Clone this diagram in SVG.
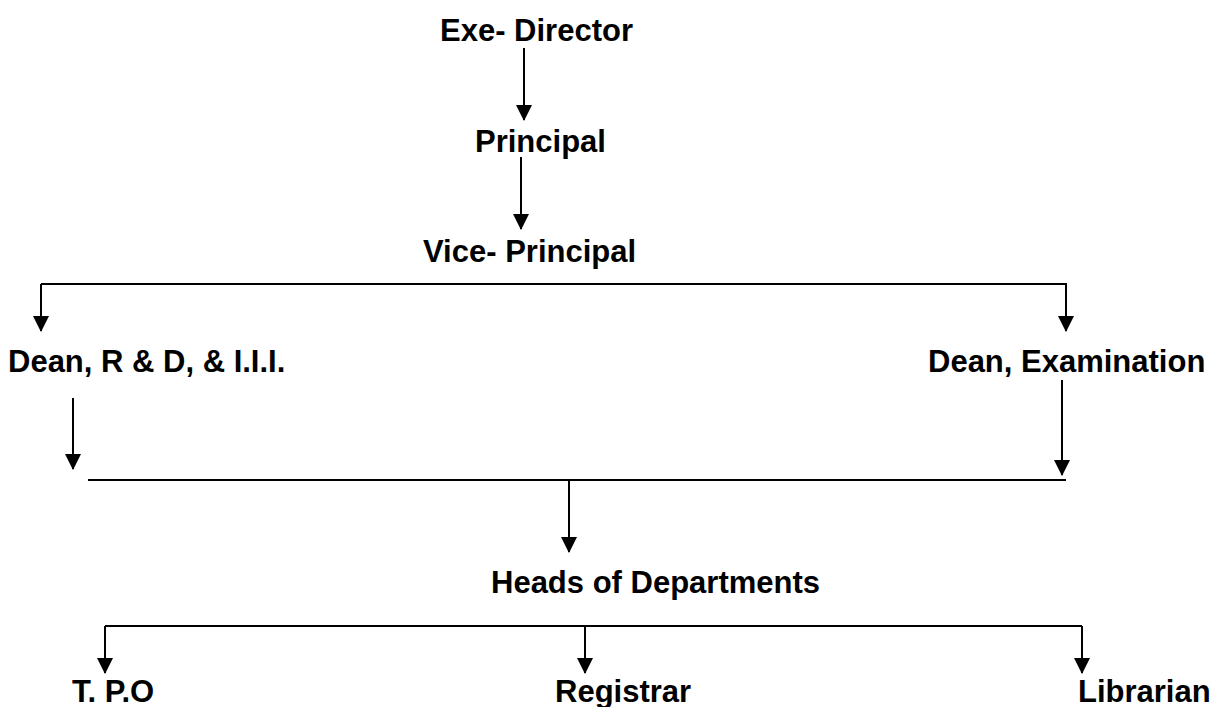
<svg xmlns="http://www.w3.org/2000/svg" width="1217" height="707" viewBox="0 0 1217 707">
<defs>
<style>
text{font-family:"Liberation Sans",Arial,sans-serif;font-weight:bold;font-size:31px;fill:#000}
.c{fill:none;stroke:#000;stroke-width:2}
</style>
<marker id="ah" markerUnits="userSpaceOnUse" markerWidth="16" markerHeight="16" refX="15" refY="8" orient="auto" viewBox="0 0 16 16">
<path d="M0,0 L16,8 L0,16 z" fill="#000"/>
</marker>
</defs>
<rect width="1217" height="707" fill="#fff"/>
<g id="connectors">
<path class="c" d="M524,48 V120" marker-end="url(#ah)"/>
<path class="c" d="M521,157 V229" marker-end="url(#ah)"/>
<path class="c" d="M41,284 H1066 V331" marker-end="url(#ah)"/>
<path class="c" d="M41,284 V331" marker-end="url(#ah)"/>
<path class="c" d="M73,398 V469" marker-end="url(#ah)"/>
<path class="c" d="M1062,380 V475" marker-end="url(#ah)"/>
<path class="c" d="M88,480 H1066"/>
<path class="c" d="M569,480 V552" marker-end="url(#ah)"/>
<path class="c" d="M105,626 H1082"/>
<path class="c" d="M105,626 V673" marker-end="url(#ah)"/>
<path class="c" d="M585,626 V673" marker-end="url(#ah)"/>
<path class="c" d="M1082,626 V673" marker-end="url(#ah)"/>
</g>
<g id="exe-director"><text x="440" y="41">Exe- Director</text></g>
<g id="principal"><text x="475" y="152">Principal</text></g>
<g id="vice-principal"><text x="423" y="262">Vice- Principal</text></g>
<g id="dean-rd"><text x="8" y="372">Dean, R &amp; D, &amp; I.I.I.</text></g>
<g id="dean-exam"><text x="928" y="372">Dean, Examination</text></g>
<g id="hods"><text x="491" y="593">Heads of Departments</text></g>
<g id="tpo"><text x="72" y="702">T. P.O</text></g>
<g id="registrar"><text x="555" y="702">Registrar</text></g>
<g id="librarian"><text x="1078" y="702">Librarian</text></g>
</svg>
